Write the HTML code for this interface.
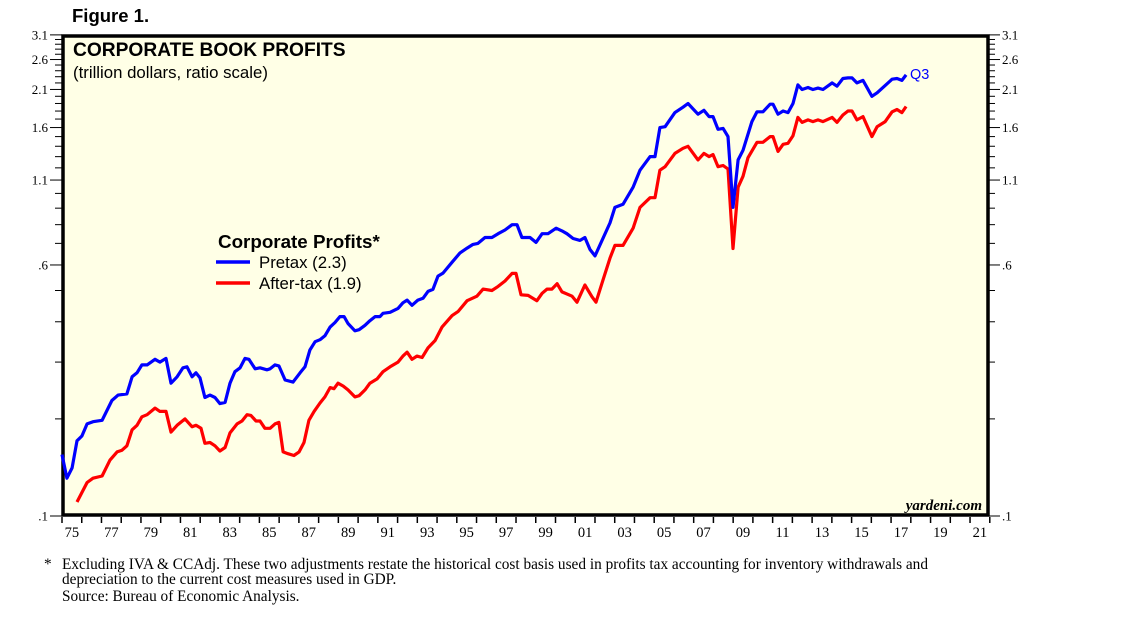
<!DOCTYPE html>
<html><head><meta charset="utf-8">
<style>
body{margin:0;background:#fff;width:1138px;height:621px;overflow:hidden;}
svg text{font-family:"Liberation Serif",serif;}
.sans{font-family:"Liberation Sans",sans-serif !important;}
</style></head>
<body>
<svg id="chart" width="1138" height="621" viewBox="0 0 1138 621" xmlns="http://www.w3.org/2000/svg">
<text class="sans" x="72" y="22" font-size="18.5" font-weight="bold">Figure 1.</text>
<rect x="63" y="36" width="925" height="479" fill="#ffffe6" stroke="#000" stroke-width="3.5"/>
<g id="axes"></g>
<g id="series"></g>
<text class="sans" x="73" y="56" font-size="19.2" font-weight="bold">CORPORATE BOOK PROFITS</text>
<text class="sans" x="73" y="78" font-size="16.8">(trillion dollars, ratio scale)</text>
<text class="sans" x="218" y="248" font-size="18.8" font-weight="bold">Corporate Profits*</text>
<line x1="216" y1="262" x2="250" y2="262" stroke="#0000ff" stroke-width="3.5"/>
<text class="sans" x="259" y="268" font-size="16.8">Pretax (2.3)</text>
<line x1="216" y1="283" x2="250" y2="283" stroke="#ff0000" stroke-width="3.5"/>
<text class="sans" x="259" y="289" font-size="16.8">After-tax (1.9)</text>
<text class="sans" x="910" y="79" font-size="14.5" fill="#0000ff">Q3</text>
<text x="982" y="510" font-size="15" font-style="italic" font-weight="bold" text-anchor="end">yardeni.com</text>
<text x="44" y="569" font-size="15.3">*</text>
<text x="62" y="569" font-size="15.3" textLength="866" lengthAdjust="spacingAndGlyphs">Excluding IVA &amp; CCAdj. These two adjustments restate the historical cost basis used in profits tax accounting for inventory withdrawals and</text>
<text x="62" y="584" font-size="15.3">depreciation to the current cost measures used in GDP.</text>
<text x="62" y="601" font-size="15.3">Source: Bureau of Economic Analysis.</text>
</svg>
<script>
const yTickLabels=[".1",".6","1.1","1.6","2.1","2.6","3.1"];
const yTickValues=[0.1,0.6,1.1,1.6,2.1,2.6,3.1];
const xTickLabels=["75","77","79","81","83","85","87","89","91","93","95","97","99","01","03","05","07","09","11","13","15","17","19","21"];
const pretaxYears=[1975.00,1975.25,1975.51,1975.76,1976.01,1976.27,1976.57,1977.03,1977.53,1977.84,1978.29,1978.55,1978.80,1979.05,1979.31,1979.71,1979.96,1980.27,1980.52,1980.83,1981.13,1981.33,1981.59,1981.79,1981.99,1982.24,1982.50,1982.75,1983.00,1983.26,1983.51,1983.76,1984.02,1984.27,1984.47,1984.78,1985.03,1985.38,1985.54,1985.79,1985.99,1986.30,1986.70,1987.06,1987.31,1987.56,1987.82,1988.07,1988.32,1988.58,1988.83,1989.08,1989.29,1989.49,1989.84,1990.05,1990.35,1990.60,1990.86,1991.11,1991.26,1991.62,1992.02,1992.27,1992.48,1992.73,1993.03,1993.29,1993.54,1993.79,1994.05,1994.30,1994.76,1995.16,1995.52,1995.82,1996.07,1996.43,1996.78,1997.09,1997.44,1997.80,1998.05,1998.30,1998.71,1999.01,1999.32,1999.62,2000.03,2000.33,2000.58,2000.89,2001.24,2001.49,2001.75,2002.00,2002.76,2003.01,2003.42,2003.93,2004.28,2004.79,2005.04,2005.29,2005.55,2006.05,2006.46,2006.71,2007.22,2007.52,2007.78,2007.98,2008.23,2008.49,2008.74,2008.99,2009.25,2009.50,2009.95,2010.21,2010.51,2010.87,2011.02,2011.27,2011.53,2011.78,2012.03,2012.28,2012.49,2012.79,2013.04,2013.30,2013.55,2014.01,2014.26,2014.56,2014.82,2015.02,2015.27,2015.58,2016.03,2016.29,2017.05,2017.30,2017.55,2017.76];
const pretaxValues=[0.155,0.131,0.141,0.171,0.177,0.193,0.196,0.198,0.228,0.237,0.239,0.27,0.278,0.294,0.294,0.306,0.30,0.308,0.258,0.27,0.288,0.29,0.27,0.278,0.268,0.233,0.237,0.233,0.223,0.225,0.258,0.28,0.288,0.308,0.306,0.286,0.288,0.284,0.286,0.294,0.292,0.264,0.26,0.278,0.29,0.327,0.347,0.352,0.362,0.385,0.398,0.415,0.415,0.395,0.375,0.378,0.39,0.403,0.415,0.415,0.425,0.428,0.44,0.458,0.467,0.45,0.467,0.473,0.497,0.504,0.554,0.566,0.612,0.654,0.677,0.695,0.70,0.73,0.73,0.75,0.77,0.80,0.80,0.73,0.73,0.705,0.75,0.75,0.78,0.765,0.75,0.725,0.715,0.73,0.67,0.64,0.81,0.905,0.925,1.045,1.18,1.30,1.30,1.60,1.61,1.78,1.85,1.90,1.76,1.81,1.73,1.73,1.58,1.59,1.50,0.905,1.27,1.36,1.67,1.79,1.79,1.89,1.89,1.76,1.80,1.78,1.90,2.17,2.10,2.13,2.10,2.12,2.10,2.20,2.15,2.27,2.28,2.28,2.20,2.24,2.00,2.05,2.26,2.27,2.24,2.33];
const aftertaxYears=[1975.76,1976.27,1976.57,1977.03,1977.43,1977.79,1978.04,1978.29,1978.55,1978.80,1979.05,1979.31,1979.71,1979.96,1980.27,1980.52,1980.83,1981.23,1981.59,1981.79,1982.04,1982.24,1982.50,1982.75,1983.00,1983.26,1983.51,1983.87,1984.12,1984.37,1984.57,1984.83,1985.03,1985.28,1985.54,1985.79,1985.99,1986.20,1986.45,1986.75,1987.01,1987.26,1987.51,1987.77,1988.07,1988.32,1988.58,1988.78,1988.98,1989.24,1989.49,1989.84,1990.05,1990.35,1990.60,1990.96,1991.26,1991.62,1992.02,1992.27,1992.48,1992.73,1992.98,1993.24,1993.54,1993.90,1994.25,1994.76,1995.06,1995.52,1996.02,1996.33,1996.78,1997.09,1997.44,1997.80,1998.00,1998.25,1998.61,1999.06,1999.32,1999.57,1999.82,2000.08,2000.33,2000.84,2001.09,2001.49,2001.85,2002.05,2002.41,2002.76,2003.01,2003.42,2003.93,2004.28,2004.79,2005.04,2005.29,2005.55,2006.05,2006.46,2006.71,2007.22,2007.52,2007.78,2007.98,2008.23,2008.49,2008.74,2008.99,2009.25,2009.50,2009.75,2010.21,2010.51,2010.87,2011.02,2011.27,2011.53,2011.78,2012.03,2012.28,2012.49,2012.79,2013.04,2013.30,2013.55,2014.01,2014.26,2014.56,2014.82,2015.02,2015.27,2015.58,2016.03,2016.29,2016.70,2017.05,2017.30,2017.55,2017.76];
const aftertaxValues=[0.1105,0.127,0.131,0.133,0.149,0.158,0.16,0.165,0.185,0.191,0.203,0.206,0.216,0.211,0.211,0.182,0.191,0.20,0.189,0.191,0.187,0.168,0.169,0.165,0.159,0.163,0.181,0.193,0.197,0.206,0.205,0.197,0.197,0.187,0.187,0.193,0.195,0.158,0.156,0.154,0.158,0.169,0.198,0.211,0.224,0.234,0.25,0.248,0.258,0.253,0.246,0.234,0.236,0.246,0.258,0.266,0.28,0.29,0.30,0.313,0.322,0.306,0.313,0.31,0.332,0.35,0.385,0.418,0.43,0.465,0.48,0.505,0.50,0.515,0.535,0.565,0.565,0.485,0.483,0.465,0.49,0.505,0.505,0.525,0.495,0.48,0.46,0.52,0.478,0.46,0.54,0.63,0.69,0.69,0.78,0.905,0.97,0.97,1.18,1.21,1.33,1.38,1.40,1.27,1.33,1.30,1.32,1.21,1.22,1.19,0.675,1.045,1.13,1.29,1.44,1.44,1.50,1.50,1.35,1.42,1.43,1.51,1.72,1.66,1.69,1.67,1.69,1.67,1.72,1.66,1.75,1.80,1.80,1.69,1.73,1.50,1.61,1.67,1.79,1.82,1.78,1.86];

const NS="http://www.w3.org/2000/svg";
const X0=62, PXY=19.74, Y0=516, PXD=322.6;
function xScale(yr){return X0+(yr-1975)*PXY;}
function yScale(v){return Y0-(Math.log10(v)+1)*PXD;}
function mk(tag,attrs,parent){const e=document.createElementNS(NS,tag);for(const k in attrs)e.setAttribute(k,attrs[k]);parent.appendChild(e);return e;}
const axes=document.getElementById('axes');
for(let i=1;i<=31;i++){
  const v=i/10, y=yScale(v);
  const major=yTickValues.some(t=>Math.abs(t-v)<1e-6);
  const l=mk('line',{x1:major?50:55,x2:62,y1:y,y2:y,stroke:'#000','stroke-width':1},axes);
  
  
  const r=mk('line',{x1:989,x2:major?1000:995,y1:y,y2:y,stroke:'#000','stroke-width':1},axes);
  
  
}
yTickLabels.forEach((lab,i)=>{
  const y=yScale(yTickValues[i])+4.5;
  const a=mk('text',{x:48,y:y,'font-size':13,'text-anchor':'end'},axes);a.textContent=lab;
  
  
  const b=mk('text',{x:1002,y:y,'font-size':13},axes);b.textContent=lab;
  
  
});
for(let yr=1975;yr<=2022;yr++){
  const x=xScale(yr);
  const t=mk('line',{x1:x,x2:x,y1:517,y2:523,stroke:'#000','stroke-width':1.5},axes);
  
  
}
xTickLabels.forEach((lab,i)=>{
  const t=mk('text',{x:xScale(1975.5+2*i),y:537,'font-size':14.5,'text-anchor':'middle'},axes);t.textContent=lab;
  
  
});
const ser=document.getElementById('series');
function line(xs,vs,color,name){
  const d=xs.map((yr,i)=>(i?'L':'M')+xScale(yr).toFixed(1)+','+yScale(vs[i]).toFixed(1)).join(' ');
  const p=mk('path',{d:d,fill:'none',stroke:color,'stroke-width':3.2,'stroke-linejoin':'round'},ser);
  
  
}
line(aftertaxYears,aftertaxValues,'#ff0000','aftertax-line');
line(pretaxYears,pretaxValues,'#0000ff','pretax-line');
</script>
</body></html>
